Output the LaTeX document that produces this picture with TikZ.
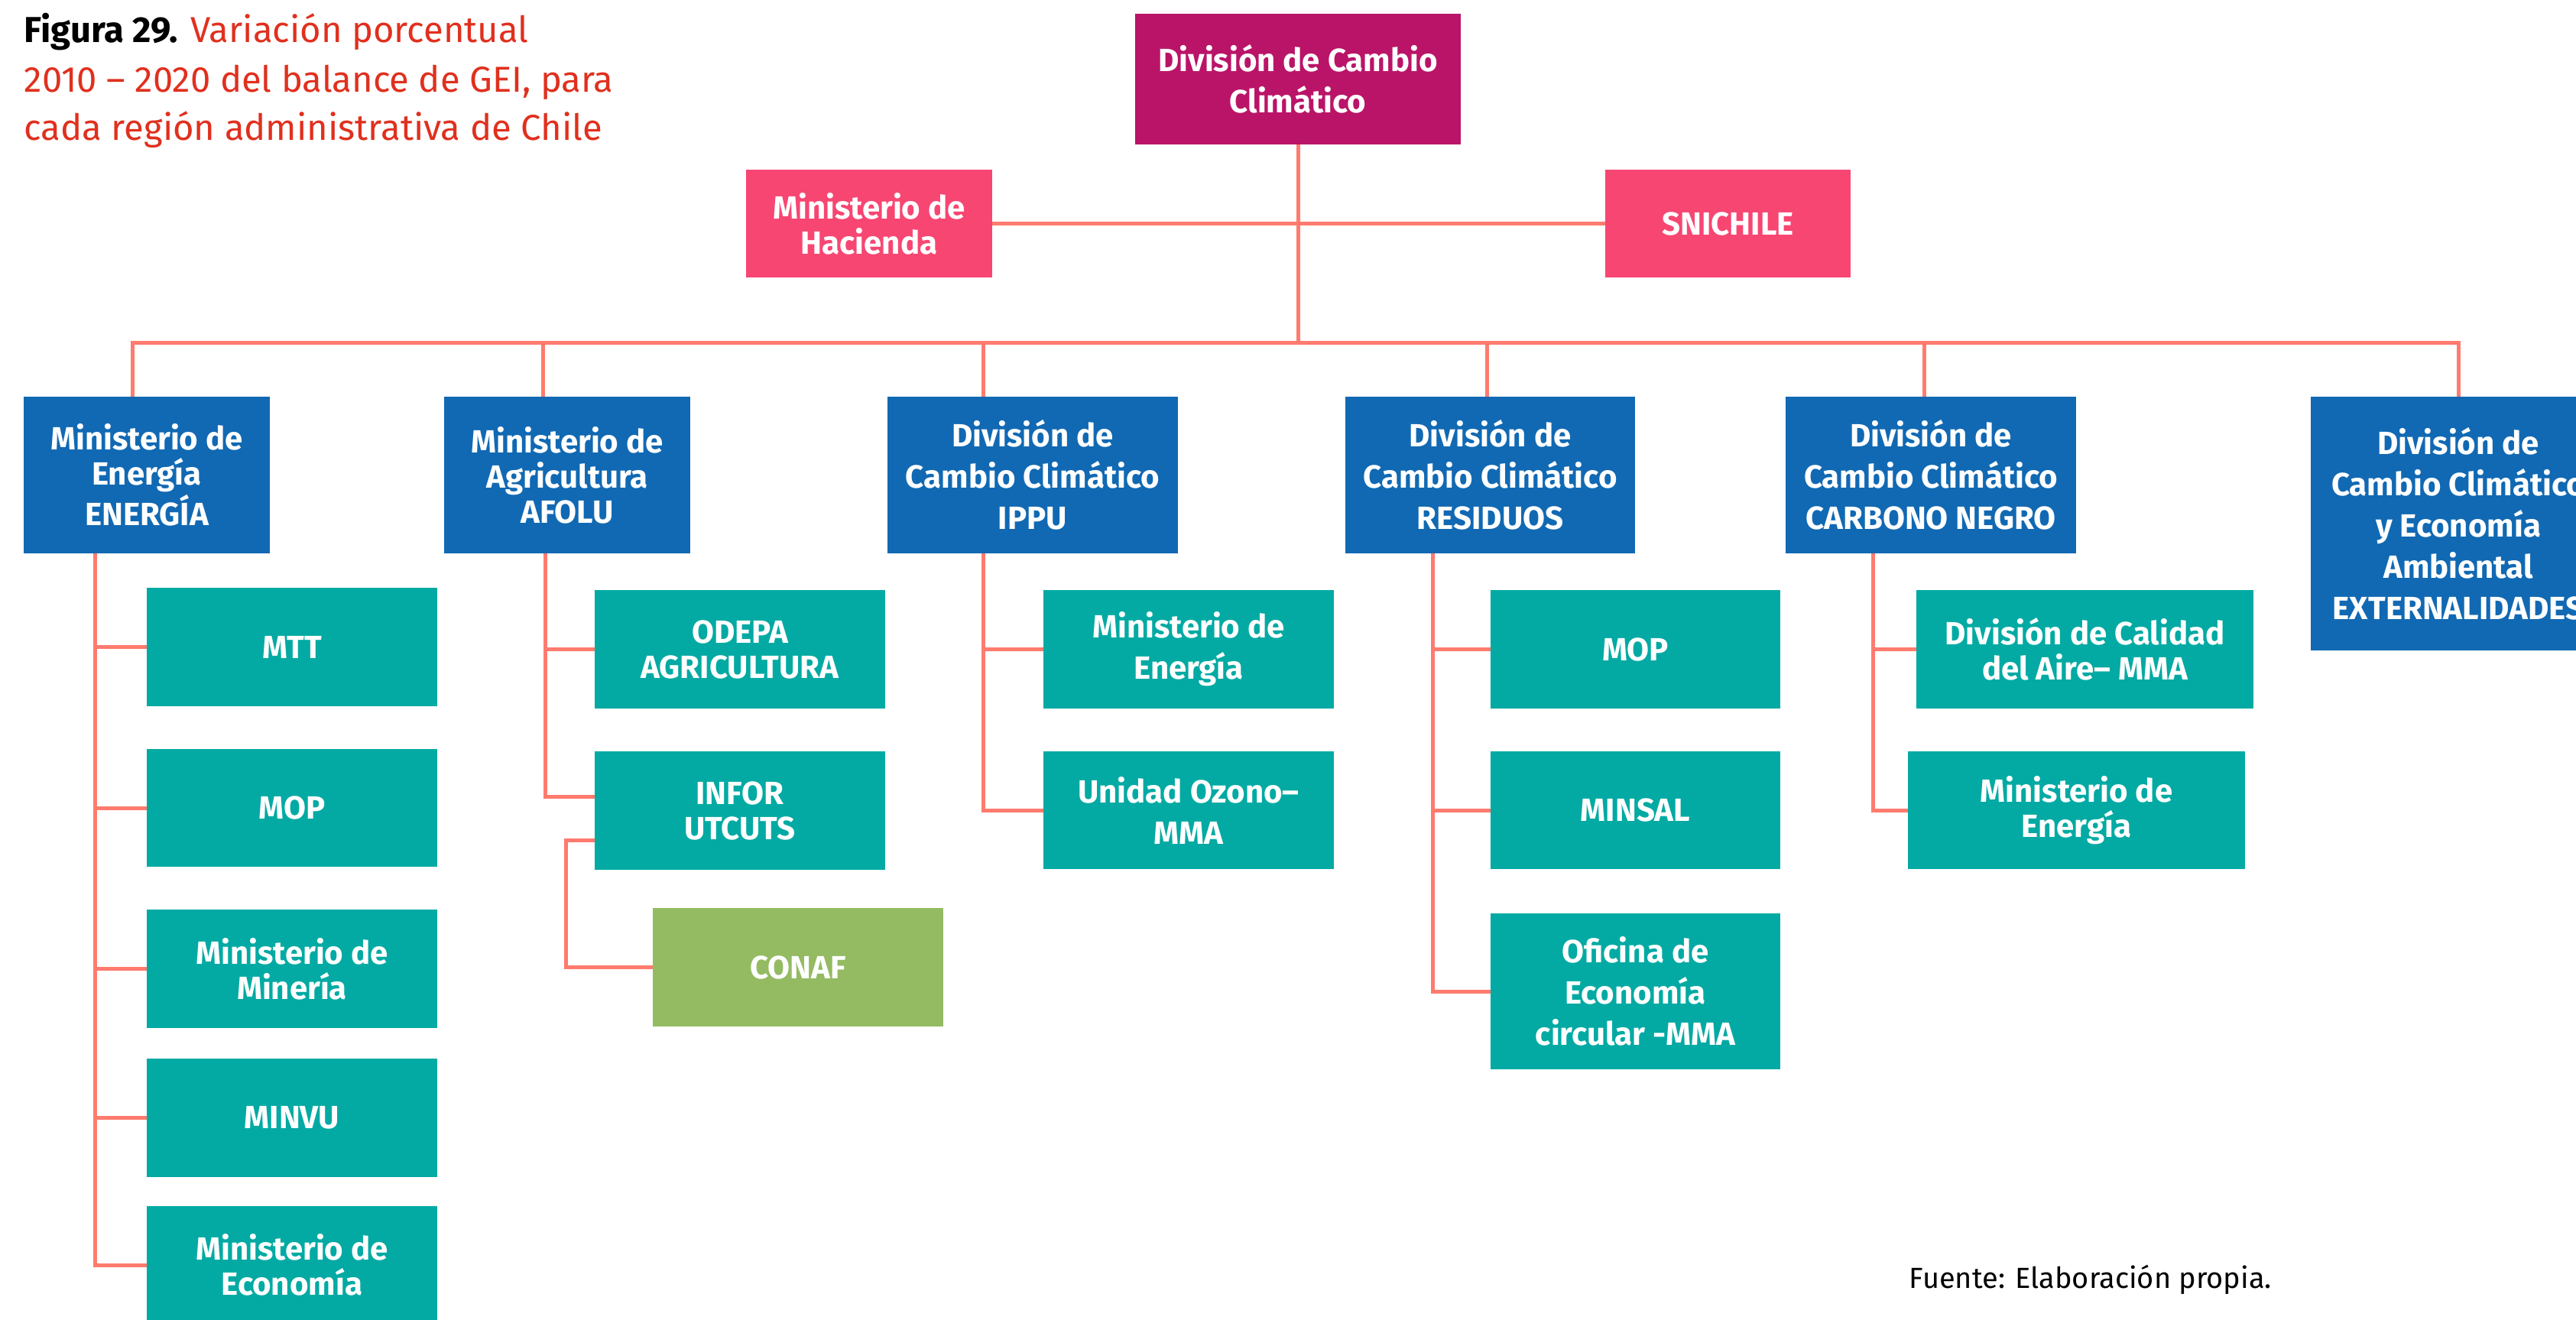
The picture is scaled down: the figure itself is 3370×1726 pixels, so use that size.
\documentclass[tikz,border=0pt]{standalone}
\usepackage{fontspec}
\setmainfont{Fira Sans}
\usetikzlibrary{calc}
\definecolor{cMag}{HTML}{BA1468}
\definecolor{cPink}{HTML}{F74672}
\definecolor{cBlue}{HTML}{1169B3}
\definecolor{cTeal}{HTML}{02AAA3}
\definecolor{cGreen}{HTML}{94BB62}
\definecolor{cLine}{HTML}{FF7B6E}
\definecolor{cRed}{HTML}{E0301E}
\newcommand\orgbox[7]{\node[#2, minimum width={(#5-#3)*0.25pt}, minimum height={(#6-#4)*0.25pt}] (#1) at ({(#3+#5)/2},{(#4+#6)/2}) {#7};}
\begin{document}
\begin{tikzpicture}[x=0.25pt,y=-0.25pt,
  box/.style={inner sep=0pt, outer sep=0pt, align=center, text=white, font=\fontsize{10.5}{13.5}\selectfont\bfseries},
  magbox/.style={box, fill=cMag},
  pinkbox/.style={box, fill=cPink},
  bluebox/.style={box, fill=cBlue},
  tealbox/.style={box, fill=cTeal},
  greenbox/.style={box, fill=cGreen},
  tightfont/.style={font=\fontsize{10.5}{11.5}\selectfont\bfseries},
  conn/.style={draw=cLine, line width=1.25pt, line join=miter},
  titletext/.style={anchor=base west, inner sep=0pt, font=\fontsize{11.8}{16}\selectfont, text=cRed}
]
\useasboundingbox (0,0) rectangle (3370,1726);
\clip (0,0) rectangle (3370,1726);

% title
\node[titletext] (t1) at (31,55) {\textcolor{black}{\bfseries Figura 29.} Variación porcentual};
\node[titletext] (t2) at (31,120) {2010 – 2020 del balance de GEI, para};
\node[titletext] (t3) at (31,183) {cada región administrativa de Chile};
\node[anchor=base west, inner sep=0pt, font=\fontsize{9.5}{12}\selectfont] (fuente) at (2497,1685) {Fuente: Elaboración propia.};

% top level
\orgbox{top}{magbox}{1485}{18}{1911}{189}{División de Cambio\\Climático}
\orgbox{hac}{pinkbox,tightfont}{976}{222}{1298}{363}{Ministerio de\\Hacienda}
\orgbox{sni}{pinkbox}{2100}{222}{2421}{363}{SNICHILE}

% second level
\orgbox{energia}{bluebox,tightfont}{31}{519}{353}{724}{Ministerio de\\Energía\\ENERGÍA}
\orgbox{agri}{bluebox,tightfont}{581}{519}{903}{724}{Ministerio de\\Agricultura\\AFOLU}
\orgbox{ippu}{bluebox}{1161}{519}{1541}{724}{División de\\Cambio Climático\\IPPU}
\orgbox{resid}{bluebox}{1760}{519}{2139}{724}{División de\\Cambio Climático\\RESIDUOS}
\orgbox{carb}{bluebox}{2336}{519}{2716}{724}{División de\\Cambio Climático\\CARBONO NEGRO}
\orgbox{ext}{bluebox}{3023}{519}{3409}{851}{División de\\Cambio Climático\\y Economía\\Ambiental\\EXTERNALIDADES}

% energia children
\orgbox{mtt}{tealbox}{192}{769}{572}{924}{MTT}
\orgbox{mopA}{tealbox}{192}{980}{572}{1134}{MOP}
\orgbox{mine}{tealbox,tightfont}{192}{1190}{572}{1345}{Ministerio de\\Minería}
\orgbox{minvu}{tealbox}{192}{1385}{572}{1540}{MINVU}
\orgbox{eco}{tealbox,tightfont}{192}{1578}{572}{1732}{Ministerio de\\Economía}

% agri children
\orgbox{odepa}{tealbox,tightfont}{778}{772}{1158}{927}{ODEPA\\AGRICULTURA}
\orgbox{infor}{tealbox,tightfont}{778}{983}{1158}{1138}{INFOR\\UTCUTS}
\orgbox{conaf}{greenbox}{854}{1188}{1234}{1343}{CONAF}

% ippu children
\orgbox{menA}{tealbox}{1365}{772}{1745}{927}{Ministerio de\\Energía}
\orgbox{ozono}{tealbox}{1365}{983}{1745}{1137}{Unidad Ozono–\\MMA}

% residuos children
\orgbox{mopB}{tealbox}{1950}{772}{2329}{927}{MOP}
\orgbox{minsal}{tealbox}{1950}{983}{2329}{1137}{MINSAL}
\orgbox{ofic}{tealbox}{1950}{1195}{2329}{1399}{Oficina de\\Economía\\circular -MMA}

% carbono children
\orgbox{aire}{tealbox,tightfont}{2507}{772}{2948}{927}{División de Calidad\\del Aire– MMA}
\orgbox{menB}{tealbox,tightfont}{2496}{983}{2937}{1137}{Ministerio de\\Energía}

% connector coordinates
\coordinate (jE) at (173,448);
\coordinate (jA) at (710,448);
\coordinate (jI) at (1286,448);
\coordinate (jR) at (1945,448);
\coordinate (jC) at (2517,448);
\coordinate (jX) at (3216,448);
\coordinate (lE) at (124,724);
\coordinate (lA) at (713,724);
\coordinate (lI) at (1286,724);
\coordinate (lR) at (1874,724);
\coordinate (lC) at (2450,724);
\coordinate (lF) at (740,1100);

% top connectors
\draw[conn] (top.south) -- (top.south |- jE);
\draw[conn] (hac.east) -- (sni.west);
\draw[conn] (jE |- energia.north) -- (jE) -- (jX) -- (jX |- ext.north);
\draw[conn] (jA) -- (jA |- agri.north);
\draw[conn] (jI) -- (jI |- ippu.north);
\draw[conn] (jR) -- (jR |- resid.north);
\draw[conn] (jC) -- (jC |- carb.north);

% energia branch
\draw[conn] (lE |- energia.south) |- (eco.west);
\foreach \n in {mtt,mopA,mine,minvu} \draw[conn] (lE |- \n.west) -- (\n.west);

% agri branch
\draw[conn] (lA |- agri.south) |- ([yshift=4.5pt]infor.west);
\draw[conn] (lA |- odepa.west) -- (odepa.west);
\draw[conn] ([yshift=-9.75pt]infor.west) -| (lF |- conaf.west) -- (conaf.west);

% ippu branch
\draw[conn] (lI |- ippu.south) |- (ozono.west);
\draw[conn] (lI |- menA.west) -- (menA.west);

% residuos branch
\draw[conn] (lR |- resid.south) |- (ofic.west);
\draw[conn] (lR |- mopB.west) -- (mopB.west);
\draw[conn] (lR |- minsal.west) -- (minsal.west);

% carbono branch
\draw[conn] (lC |- carb.south) |- (menB.west);
\draw[conn] (lC |- aire.west) -- (aire.west);
\end{tikzpicture}
\end{document}
